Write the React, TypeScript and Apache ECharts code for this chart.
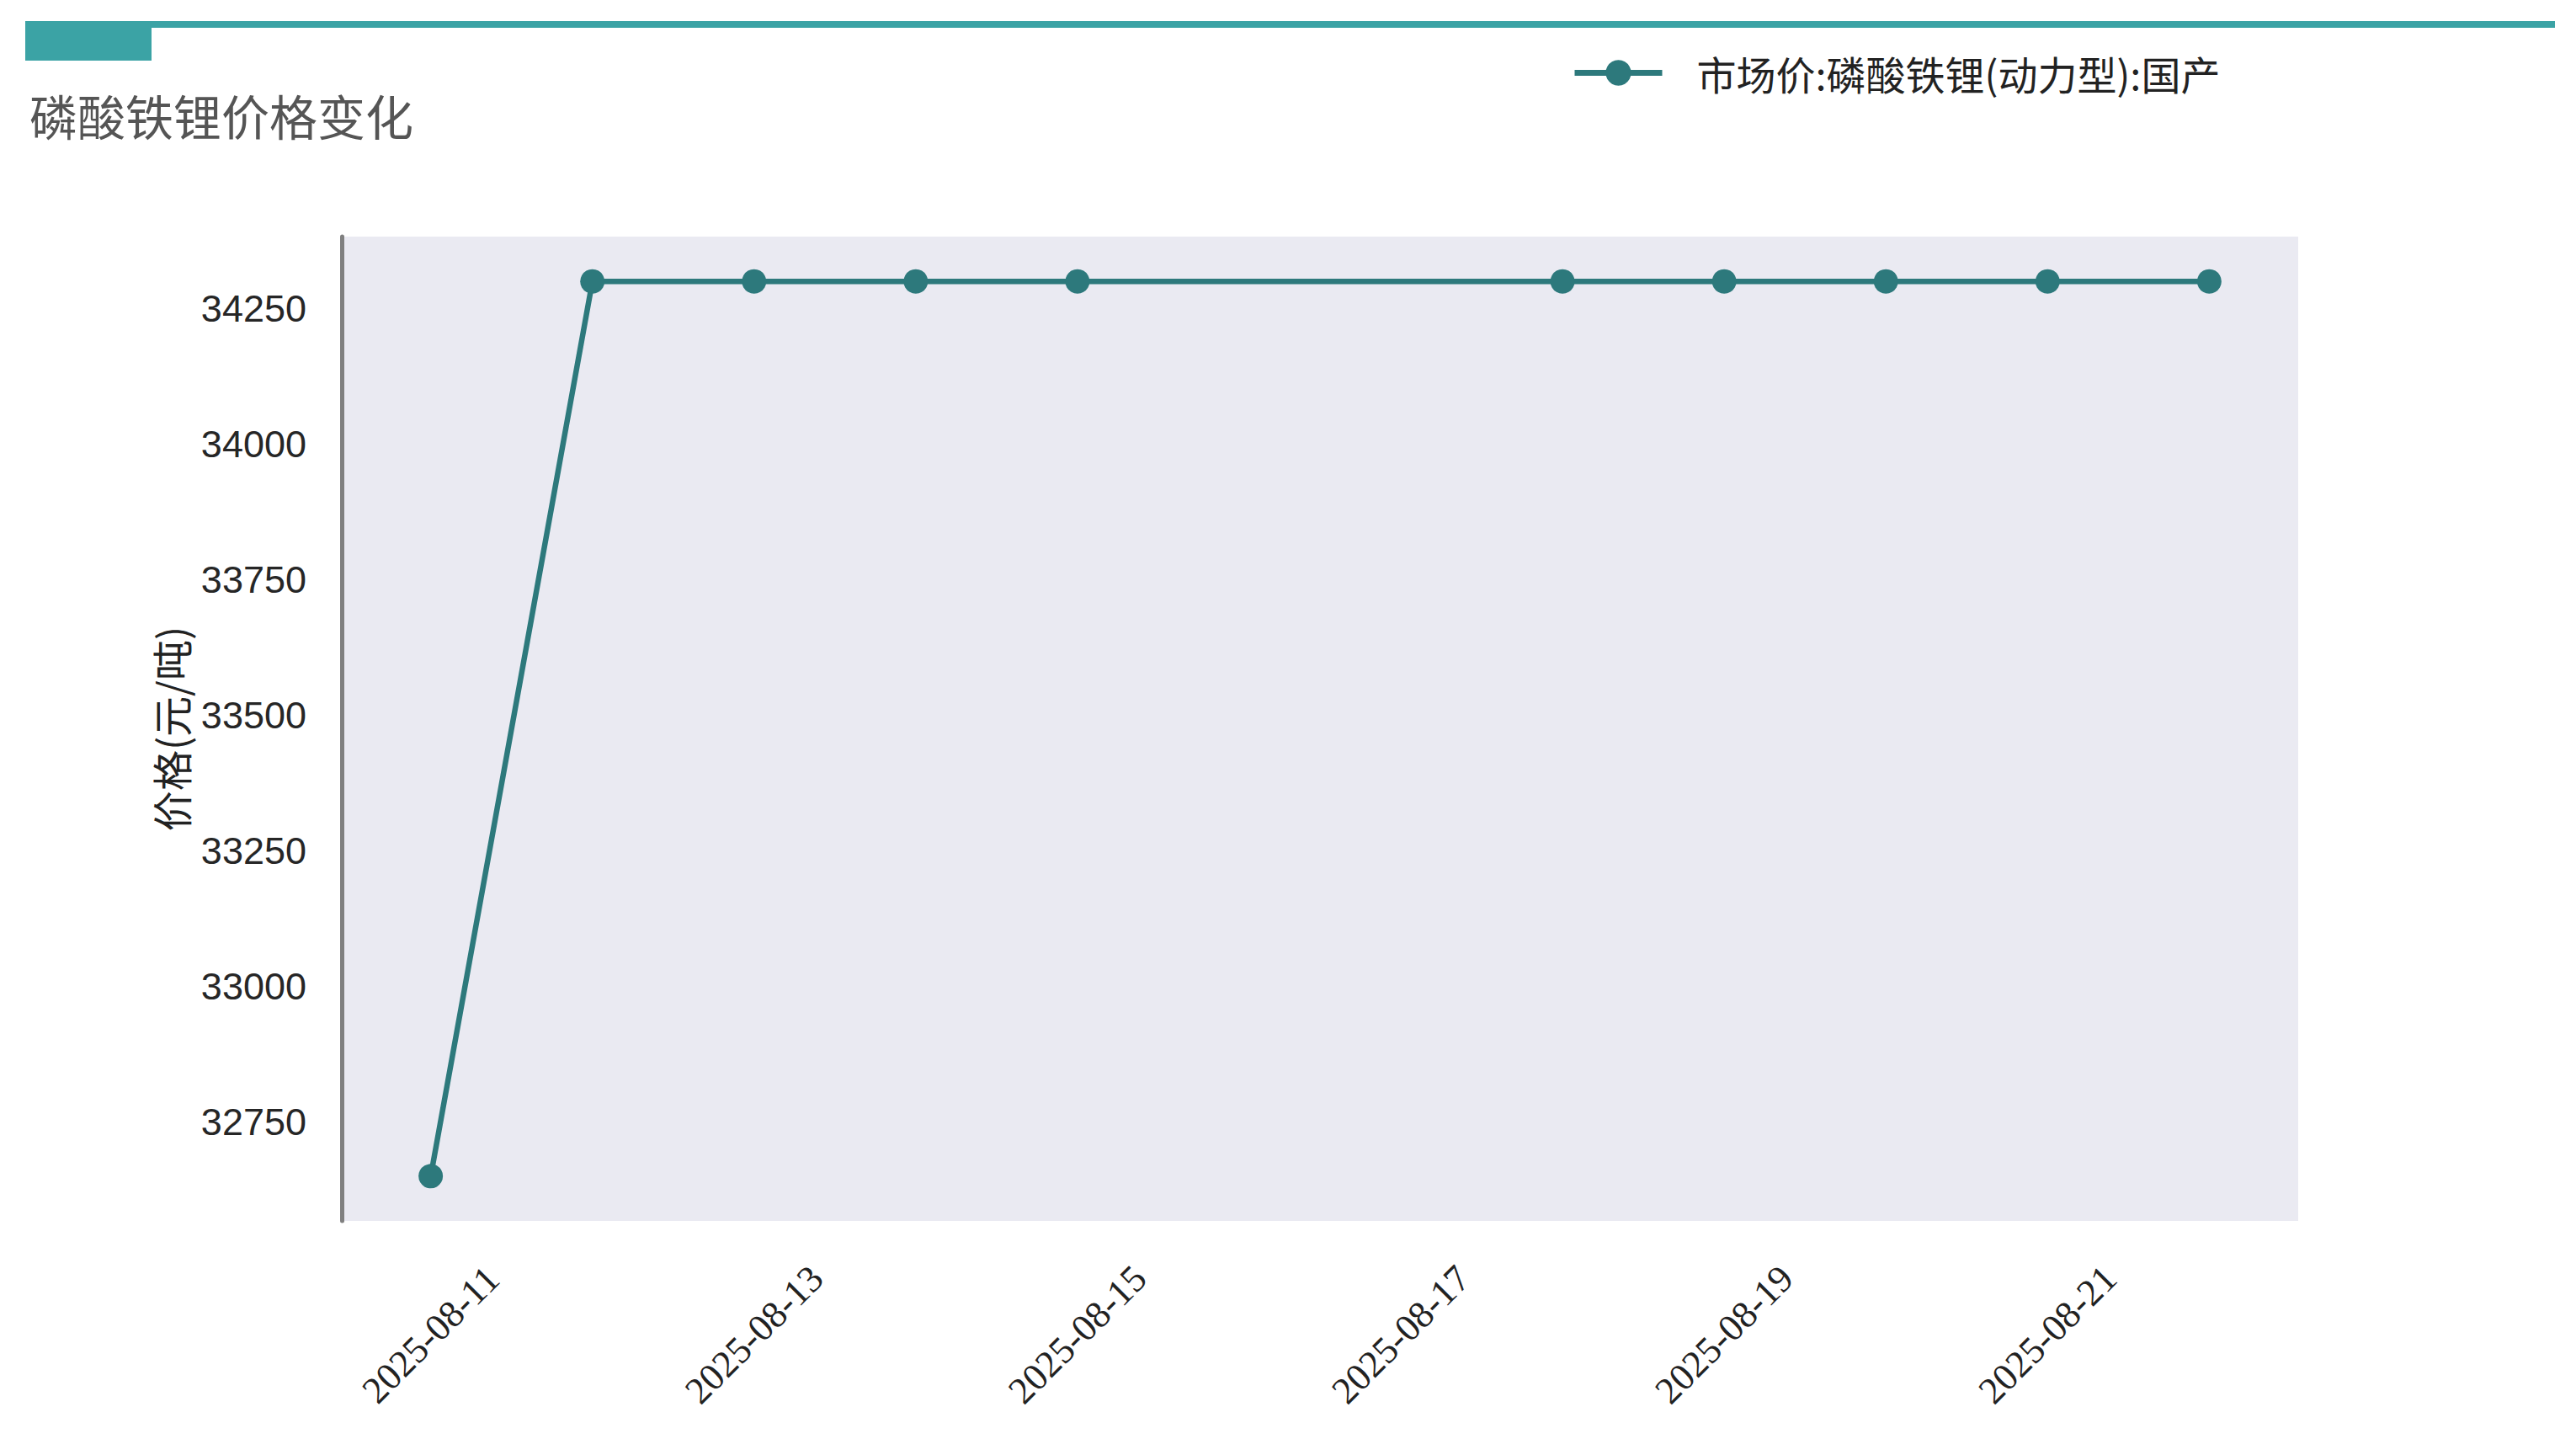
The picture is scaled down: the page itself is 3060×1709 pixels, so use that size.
import React, { useEffect, useRef } from "react";
import * as echarts from "echarts";

const seriesName = "市场价:磷酸铁锂(动力型):国产";
const titleText = "磷酸铁锂价格变化";
const yAxisName = "价格(元/吨)";
const dates = [
  "2025-08-11", "2025-08-12", "2025-08-13", "2025-08-14", "2025-08-15",
  "2025-08-18", "2025-08-19", "2025-08-20", "2025-08-21", "2025-08-22",
];
const prices = [32650, 34300, 34300, 34300, 34300, 34300, 34300, 34300, 34300, 34300];
const yTicks = [32750, 33000, 33250, 33500, 33750, 34000, 34250];
const xTickDates = ["2025-08-11", "2025-08-13", "2025-08-15", "2025-08-17", "2025-08-19", "2025-08-21"];

const DAY = 86400000;
const toDay = (s: string) => {
  const [y, m, d] = s.split("-").map(Number);
  return Math.round(Date.UTC(y, m - 1, d) / DAY);
};
const pad2 = (n: number) => (n < 10 ? "0" + n : "" + n);
const fmtDay = (v: number) => {
  const d = new Date(Math.round(v) * DAY);
  return d.getUTCFullYear() + "-" + pad2(d.getUTCMonth() + 1) + "-" + pad2(d.getUTCDate());
};

export default function App() {
  const ref = useRef<HTMLDivElement>(null);
  useEffect(() => {
    if (!ref.current) return;
    const chart = echarts.init(ref.current, null, { renderer: "svg" });
    const t0 = toDay(dates[0]);
    const t1 = toDay(dates[dates.length - 1]);
    const xSpan = t1 - t0;
    const pMin = Math.min(...prices);
    const pMax = Math.max(...prices);
    const ySpan = pMax - pMin;
    const lineColor = "#2D797C";
    chart.setOption({
      animation: false,
      backgroundColor: "#ffffff",
      title: {
        text: titleText,
        left: 30,
        top: 102,
        textStyle: {
          fontFamily: "Noto Sans CJK SC",
          fontSize: 57,
          fontWeight: "normal",
          color: "#555555",
        },
      },
      legend: {
        left: 1862,
        top: 58,
        itemWidth: 104,
        itemHeight: 38,
        data: [{ name: seriesName }],
        lineStyle: { width: 7 },
        textStyle: {
          fontFamily: "Noto Sans CJK SC",
          fontSize: 47,
          color: "#222222",
          padding: [0, 0, 0, 36],
        },
      },
      graphic: [
        { type: "rect", shape: { x: 30, y: 25, width: 3005, height: 8 }, style: { fill: "#3BA3A5" } },
        { type: "rect", shape: { x: 30, y: 25, width: 150, height: 47 }, style: { fill: "#3BA3A5" } },
      ],
      grid: {
        left: 406,
        top: 281,
        width: 2324,
        height: 1169,
        show: true,
        backgroundColor: "#EAEAF2",
        borderWidth: 0,
      },
      xAxis: {
        type: "value",
        min: t0 - 0.05 * xSpan,
        max: t1 + 0.05 * xSpan,
        axisLine: { show: false },
        axisTick: { show: false },
        splitLine: { show: false },
        axisLabel: {
          customValues: xTickDates.map(toDay),
          formatter: (v: number) => fmtDay(v),
          rotate: 45,
          align: "center",
          verticalAlign: "middle",
          margin: 135,
          fontFamily: "Liberation Serif",
          fontSize: 45,
          color: "#222222",
        },
      },
      yAxis: {
        type: "value",
        min: pMin - 0.05 * ySpan,
        max: pMax + 0.05 * ySpan,
        name: yAxisName,
        nameLocation: "middle",
        nameRotate: 90,
        nameGap: 180,
        nameTextStyle: {
          fontFamily: "Noto Sans CJK SC",
          fontSize: 48,
          color: "#222222",
        },
        axisLine: { show: true, lineStyle: { color: "#808080", width: 5 } },
        axisTick: { show: false },
        splitLine: { show: false },
        axisLabel: {
          customValues: yTicks,
          formatter: (v: number) => String(v),
          margin: 42,
          fontFamily: "Liberation Sans",
          fontSize: 45,
          color: "#262626",
        },
      },
      series: [
        {
          name: seriesName,
          type: "line",
          data: dates.map((d, i) => [toDay(d), prices[i]]),
          symbol: "circle",
          symbolSize: 29,
          lineStyle: { color: lineColor, width: 6.5 },
          itemStyle: { color: lineColor },
        },
      ],
    });
    return () => chart.dispose();
  }, []);
  return (
    <div
      ref={ref}
      style={{ position: "fixed", left: 0, top: 0, width: 3060, height: 1709 }}
    />
  );
}
